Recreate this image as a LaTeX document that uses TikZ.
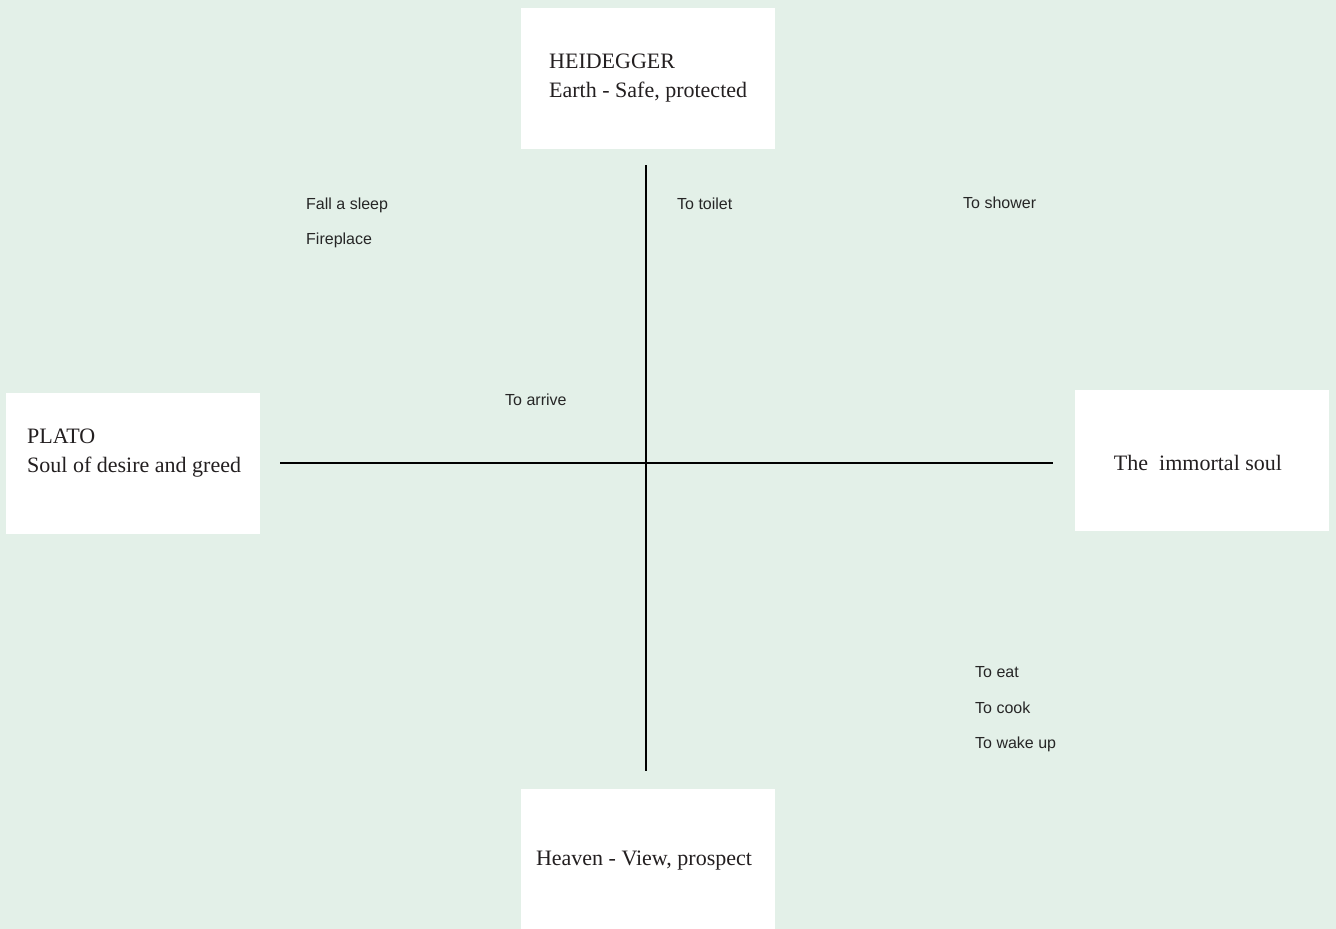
\documentclass[tikz,border=0pt]{standalone}
\usepackage{fontspec}
\setmainfont{Liberation Serif}
\setsansfont{Liberation Sans}
\usepackage{xcolor}
\usetikzlibrary{positioning}
\definecolor{mintbg}{RGB}{227,240,232}
\definecolor{inkgrey}{RGB}{35,31,32}

\begin{document}
\begin{tikzpicture}[
    x=1pt, y=-1pt,
    box/.style={rectangle, fill=white, draw=none, minimum width=254pt, minimum height=141pt, inner sep=0pt},
    title/.style={anchor=base west, inner sep=0pt, text=inkgrey, font=\fontsize{22}{29}\selectfont},
    label/.style={anchor=base west, inner sep=0pt, text=black!85, font=\sffamily\fontsize{16}{19}\selectfont},
    axis/.style={line width=2.5pt, black}
]
    % Background
    \fill[mintbg] (0,0) rectangle (1336,929);
    \useasboundingbox (0,0) rectangle (1336,929);

    % Four boxes
    \node[box] (heidegger) at (648,78) {};
    \node[box] (plato) at (133,463) {};
    \node[box] (soul) at (1202,460.5) {};
    \node[box, minimum height=140pt] (heaven) at (648,859) {};

    \node[title] (heidname) at (549,68) {HEIDEGGER};
    \node[title] (heidtext) at (549,97) {Earth - Safe, protected};
    \node[title] (platoname) at (27,443) {PLATO};
    \node[title] (platotext) at (27,472) {Soul of desire and greed};
    \node[title, anchor=base] (soultext) at (1198,470) {The\ \ immortal soul};
    \node[title, anchor=base] (heaventext) at (644,865) {Heaven - View, prospect};

    % Axes
    \coordinate (left) at (280,463);
    \coordinate (right) at (1053,463);
    \coordinate (top) at (646,165);
    \coordinate (bottom) at (646,771);
    \draw[axis] (left) -- (right);
    \draw[axis] (top) -- (bottom);

    % Activities
    \node[label] (sleep) at (306,209) {Fall a sleep};
    \node[label] (fire) at (306,244) {Fireplace};
    \node[label] (toilet) at (677,209) {To toilet};
    \node[label] (shower) at (963,208) {To shower};
    \node[label] (arrive) at (505,405) {To arrive};
    \node[label] (eat) at (975,677) {To eat};
    \node[label] (cook) at (975,713) {To cook};
    \node[label] (wake) at (975,748) {To wake up};
\end{tikzpicture}
\end{document}
